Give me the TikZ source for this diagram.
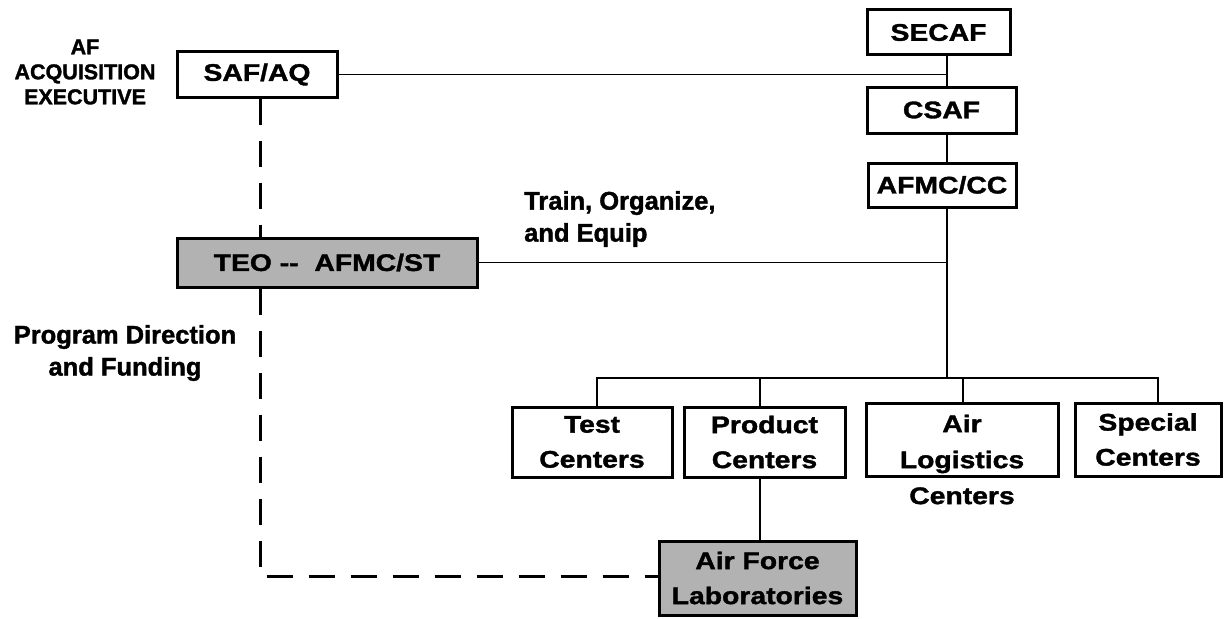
\documentclass[tikz,border=0pt]{standalone}
\usepackage{fontspec}
\setmainfont{Liberation Sans}[BoldFeatures={FakeBold=1.5}]
\newfontfamily\boxfont{Liberation Sans}[FakeStretch=1.18, BoldFeatures={FakeBold=1.5}]
\begin{document}
\begin{tikzpicture}[x=1pt,y=-1pt,
  cbox/.style={draw, line width=3pt, inner sep=0pt, font=\boxfont\bfseries\fontsize{24}{35}\selectfont, align=center},
  shaded/.style={cbox, fill=black!30},
  boxtxt/.style={inner sep=0pt, font=\boxfont\bfseries\fontsize{24}{36}\selectfont, align=center},
  lbl/.style={inner sep=0pt, font=\bfseries\fontsize{25.5}{32}\selectfont},
  conn/.style={line width=1.5pt},
  dashconn/.style={line width=3pt, dash pattern=on 26pt off 16pt}
]
\useasboundingbox (0,0) rectangle (1225,618);
% boxes
\node[cbox, minimum width=160pt, minimum height=45pt] (safaq) at (257,74.5) {SAF/AQ};
\node[cbox, minimum width=143pt, minimum height=45pt] (secaf) at (938.5,32.5) {SECAF};
\node[cbox, minimum width=149pt, minimum height=46pt] (csaf) at (941.5,110) {CSAF};
\node[cbox, minimum width=148pt, minimum height=44pt] (afmc) at (942,185) {AFMC/CC};
\node[shaded, minimum width=300pt, minimum height=49pt] (teo) at (327,262.5) {TEO -- \ AFMC/ST};
\node[cbox, minimum width=160pt, minimum height=70pt] (test) at (592,442) {Test\\Centers};
\node[cbox, minimum width=161pt, minimum height=70pt] (product) at (764.5,442) {Product\\Centers};
\node[cbox, minimum width=192pt, minimum height=73pt] (air) at (962,439.5) {};
\node[boxtxt, anchor=north] (airtxt) at (962,414.5) {Air\\Logistics\\Centers};
\node[cbox, minimum width=146pt, minimum height=73pt] (special) at (1148,439.5) {Special\\Centers};
\node[shaded, minimum width=197pt, minimum height=74pt] (labs) at (757.5,578) {Air Force\\Laboratories};
% free labels
\node[inner sep=0pt, font=\bfseries\fontsize{21.5}{25}\selectfont, align=center] (afexec) at (85,72) {AF\\ACQUISITION\\EXECUTIVE};
\node[lbl, align=left, anchor=west] (toe) at (524,219) {Train, Organize,\\and Equip};
\node[lbl, align=center] (pdf) at (125,353) {Program Direction\\and Funding};
% connectors
\coordinate (sp) at (947,0);
\coordinate (br) at (947,378);
\coordinate (bl) at (597,378);
\coordinate (brr) at (1158,378);
\coordinate (pd) at (760,378);
\coordinate (ad) at (963,378);
\draw[conn] (secaf.south -| sp) -- (csaf.north -| sp);
\draw[conn] (csaf.south -| sp) -- (afmc.north -| sp);
\draw[conn] (afmc.south -| sp) -- (br);
\draw[conn] (safaq.east) -- (safaq.east -| sp);
\draw[conn] (teo.east) -- (teo.east -| sp);
\draw[conn] (test.north -| bl) -- (bl) -- (brr) -- (special.north -| brr);
\draw[conn] (pd) -- (product.north -| pd);
\draw[conn] (ad) -- (air.north -| ad);
\draw[conn] (product.south -| pd) -- (labs.north -| pd);
\coordinate (dx) at (260,0);
\coordinate (dc) at (260,576);
\draw[dashconn] (safaq.south -| dx) -- (teo.north -| dx);
\draw[dashconn] (teo.south -| dx) -- (dc) -- (dc -| labs.west);
\end{tikzpicture}
\end{document}
